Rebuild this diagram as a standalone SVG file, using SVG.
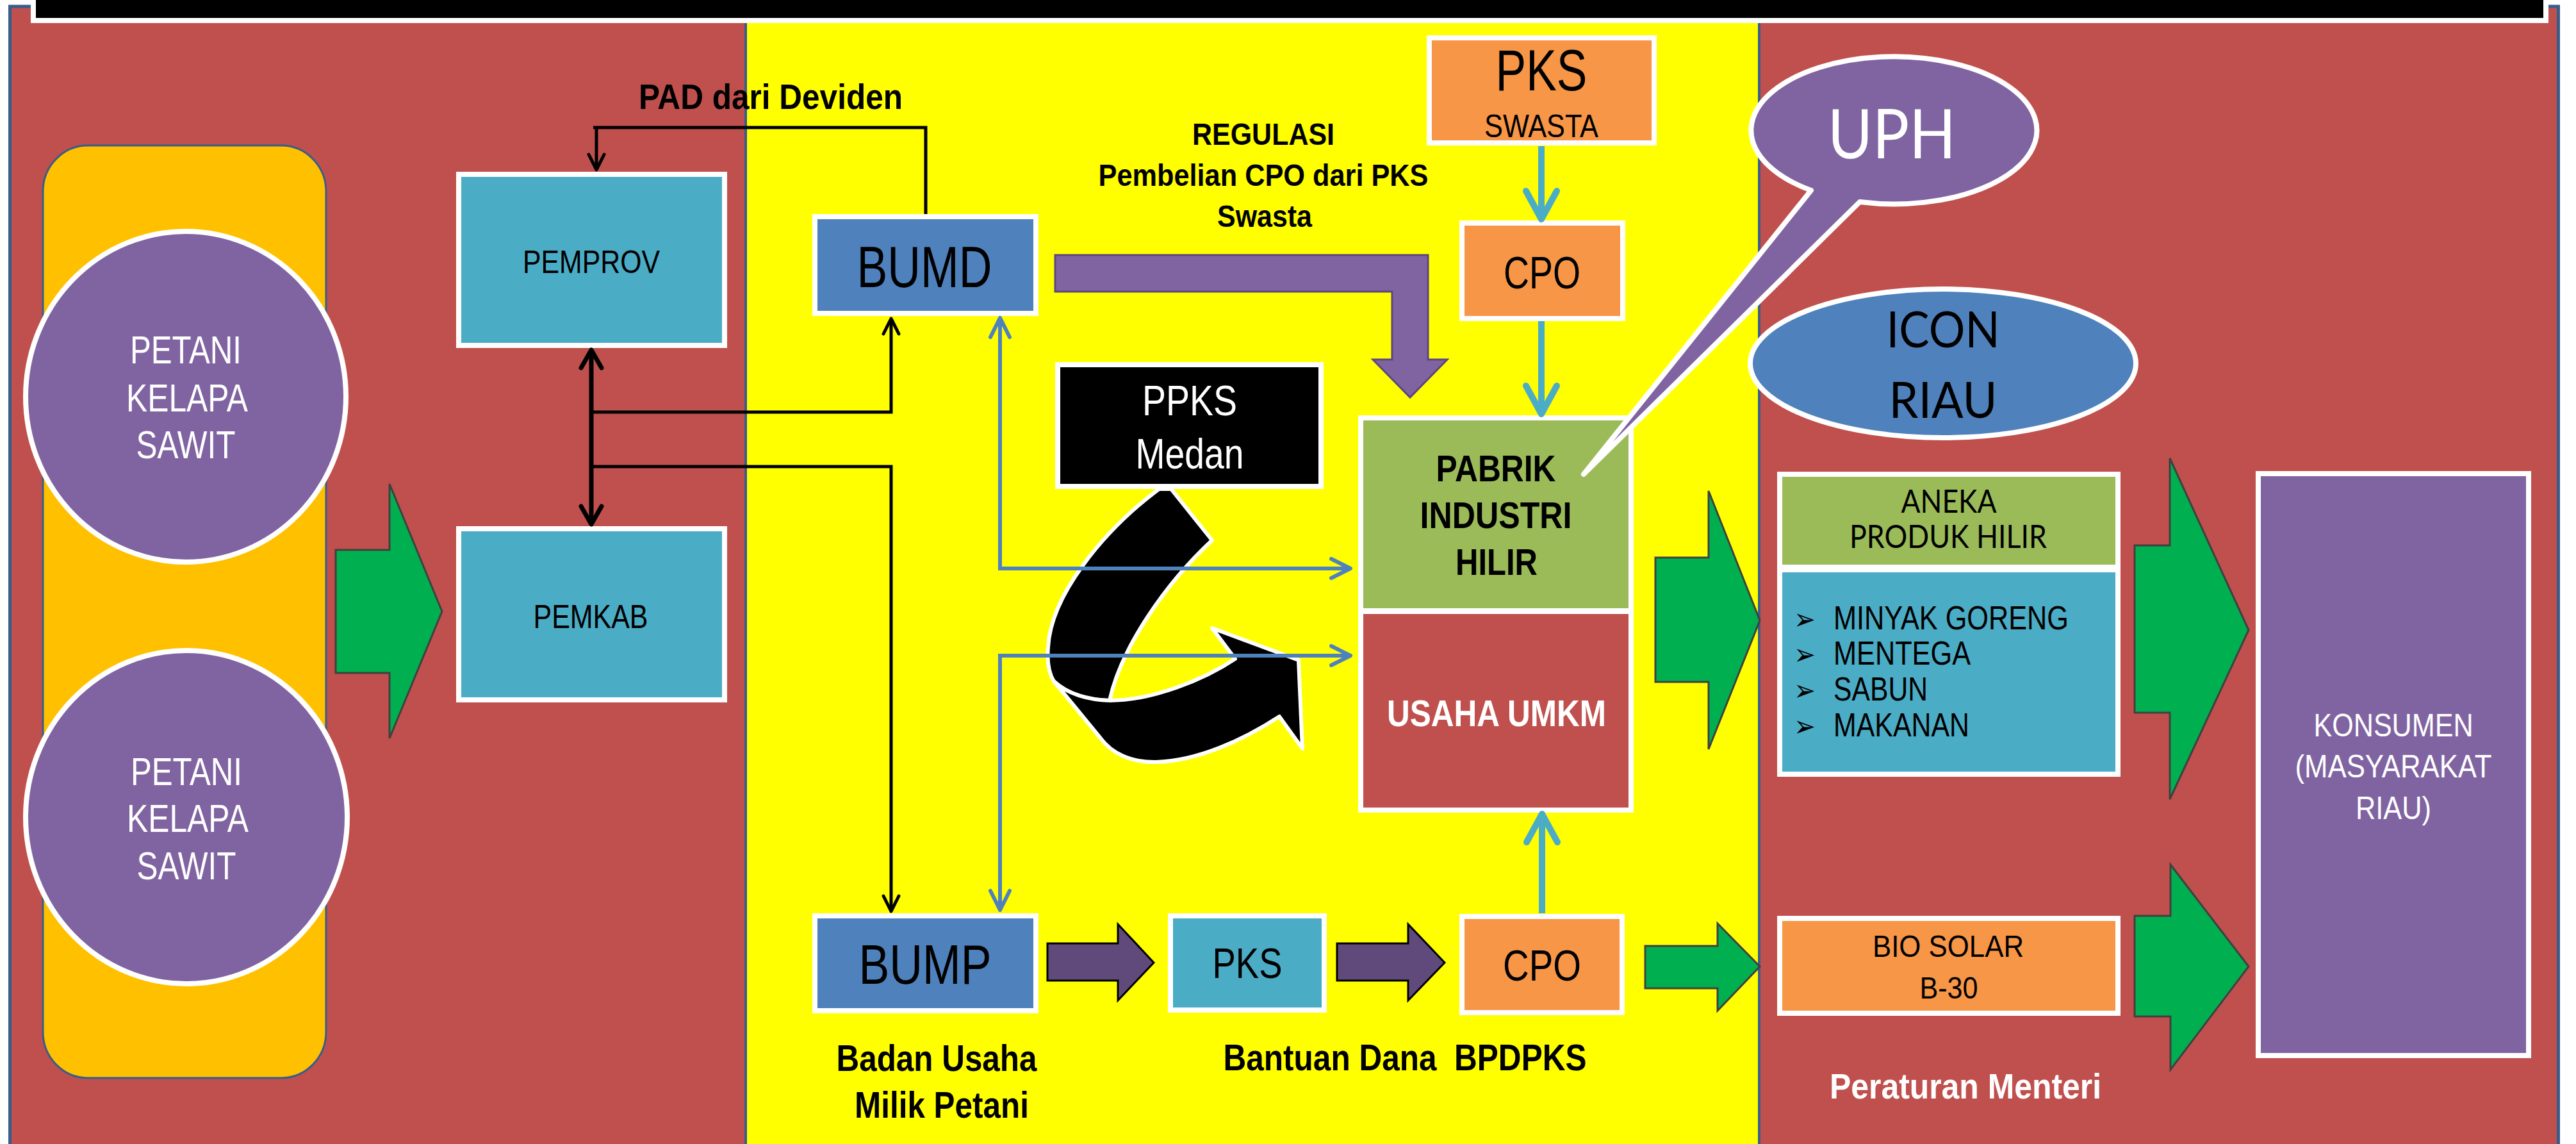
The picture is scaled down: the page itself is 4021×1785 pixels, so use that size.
<svg xmlns="http://www.w3.org/2000/svg" width="4021" height="1785" viewBox="0 0 4021 1785">
<style>
.t{font-family:"Liberation Sans Narrow","Liberation Sans",Arial,sans-serif;text-anchor:middle}
.l{font-family:Lato,"Open Sans",sans-serif;text-anchor:middle}
.b{font-weight:bold}
.box{stroke:#fff;stroke-width:8}
.ell{stroke:#fff;stroke-width:8}
.ga{fill:#00B050;stroke:#404040;stroke-width:3;stroke-linejoin:miter}
.pa{fill:#604A7B;stroke:#000;stroke-width:3}
.k{fill:none;stroke:#000;stroke-width:5}
.k2{fill:none;stroke:#000;stroke-width:7}
.bl{fill:none;stroke:#4F81BD;stroke-width:6}
.cy{fill:none;stroke:#4BACC6;stroke-width:10}
</style>
<defs>
<marker id="mk" viewBox="-40 -30 50 60" refX="0" refY="0" markerWidth="50" markerHeight="60" markerUnits="userSpaceOnUse" orient="auto-start-reverse"><path d="M-24,-12 L0,0 L-24,12" fill="none" stroke="#000" stroke-width="5" stroke-linejoin="round" stroke-linecap="round"/></marker>
<marker id="mk2" viewBox="-40 -30 50 60" refX="0" refY="0" markerWidth="50" markerHeight="60" markerUnits="userSpaceOnUse" orient="auto-start-reverse"><path d="M-28,-16 L0,0 L-28,16" fill="none" stroke="#000" stroke-width="7" stroke-linejoin="round" stroke-linecap="round"/></marker>
<marker id="mb" viewBox="-40 -30 50 60" refX="0" refY="0" markerWidth="50" markerHeight="60" markerUnits="userSpaceOnUse" orient="auto-start-reverse"><path d="M-30,-15 L0,0 L-30,15" fill="none" stroke="#4F81BD" stroke-width="6" stroke-linejoin="round" stroke-linecap="round"/></marker>
<marker id="mc" viewBox="-60 -40 70 80" refX="0" refY="0" markerWidth="70" markerHeight="80" markerUnits="userSpaceOnUse" orient="auto-start-reverse"><path d="M-44,-24 L0,0 L-44,24" fill="none" stroke="#4BACC6" stroke-width="10" stroke-linejoin="round" stroke-linecap="round"/></marker>
</defs>

<rect width="4021" height="1785" fill="#fff"/>
<g id="panels">
<rect x="15.5" y="10" width="3978" height="1800" fill="#C0504D" stroke="#385D8A" stroke-width="5"/>
<rect x="1164" y="20" width="1582" height="1800" fill="#FFFF00" stroke="#385D8A" stroke-width="4"/>
<rect x="52" y="-20" width="3922" height="52" fill="#000" stroke="#fff" stroke-width="8"/>
</g>

<g id="petani-group">
<rect x="67" y="227" width="442" height="1455" rx="70" ry="72" fill="#FFC000" stroke="#385D8A" stroke-width="3"/>
</g>
<g id="petani1">
<ellipse cx="290" cy="619" rx="250" ry="258" fill="#8064A2" class="ell"/>
<text class="t" x="290" y="567" font-size="61" fill="#fff" textLength="174" lengthAdjust="spacingAndGlyphs">PETANI</text>
<text class="t" x="292" y="642" font-size="61" fill="#fff" textLength="190" lengthAdjust="spacingAndGlyphs">KELAPA</text>
<text class="t" x="290" y="715" font-size="61" fill="#fff" textLength="155" lengthAdjust="spacingAndGlyphs">SAWIT</text>
</g>
<g id="petani2">
<ellipse cx="291" cy="1275" rx="251" ry="260" fill="#8064A2" class="ell"/>
<text class="t" x="291" y="1225" font-size="61" fill="#fff" textLength="174" lengthAdjust="spacingAndGlyphs">PETANI</text>
<text class="t" x="293" y="1298" font-size="61" fill="#fff" textLength="190" lengthAdjust="spacingAndGlyphs">KELAPA</text>
<text class="t" x="291" y="1372" font-size="61" fill="#fff" textLength="155" lengthAdjust="spacingAndGlyphs">SAWIT</text>
</g>

<g id="pemprov">
<rect x="716" y="272" width="415" height="267" fill="#4BACC6" class="box"/>
<text class="t" x="923" y="426" font-size="50" textLength="214" lengthAdjust="spacingAndGlyphs">PEMPROV</text>
</g>
<g id="pemkab">
<rect x="716" y="825" width="415" height="267" fill="#4BACC6" class="box"/>
<text class="t" x="922" y="980" font-size="52" textLength="179" lengthAdjust="spacingAndGlyphs">PEMKAB</text>
</g>
<g id="bumd">
<rect x="1272" y="338" width="345" height="151" fill="#4F81BD" class="box"/>
<text class="t" x="1443" y="448" font-size="90" textLength="211" lengthAdjust="spacingAndGlyphs">BUMD</text>
</g>
<g id="bump">
<rect x="1272" y="1429" width="345" height="148" fill="#4F81BD" class="box"/>
<text class="t" x="1444" y="1535" font-size="88" textLength="207" lengthAdjust="spacingAndGlyphs">BUMP</text>
</g>
<g id="pks-swasta">
<rect x="2231" y="59" width="351" height="164" fill="#F79646" class="box"/>
<text class="t" x="2406" y="141" font-size="90" textLength="143" lengthAdjust="spacingAndGlyphs">PKS</text>
<text class="t" x="2406" y="214" font-size="50" textLength="178" lengthAdjust="spacingAndGlyphs">SWASTA</text>
</g>
<g id="cpo-top">
<rect x="2282" y="348" width="251" height="149" fill="#F79646" class="box"/>
<text class="t" x="2407" y="450" font-size="70" textLength="120" lengthAdjust="spacingAndGlyphs">CPO</text>
</g>
<g id="ppks">
<rect x="1651" y="569" width="411" height="190" fill="#000" class="box"/>
<text class="t" x="1857" y="648" font-size="66" fill="#fff" textLength="148" lengthAdjust="spacingAndGlyphs">PPKS</text>
<text class="t" x="1857" y="731" font-size="66" fill="#fff" textLength="169" lengthAdjust="spacingAndGlyphs">Medan</text>
</g>
<g id="pabrik">
<rect x="2124" y="652" width="422" height="301" fill="#9BBB59" class="box"/>
<text class="t b" x="2335" y="751" font-size="58" textLength="187" lengthAdjust="spacingAndGlyphs">PABRIK</text>
<text class="t b" x="2335" y="824" font-size="58" textLength="237" lengthAdjust="spacingAndGlyphs">INDUSTRI</text>
<text class="t b" x="2336" y="897" font-size="58" textLength="128" lengthAdjust="spacingAndGlyphs">HILIR</text>
</g>
<g id="umkm">
<rect x="2124" y="954" width="422" height="310" fill="#C0504D" class="box"/>
<text class="t b" x="2336" y="1133" font-size="58" fill="#fff" textLength="342" lengthAdjust="spacingAndGlyphs">USAHA UMKM</text>
</g>
<g id="pks-bawah">
<rect x="1827" y="1429" width="240" height="147" fill="#4BACC6" class="box"/>
<text class="t" x="1947" y="1526" font-size="66" textLength="109" lengthAdjust="spacingAndGlyphs">PKS</text>
</g>
<g id="cpo-bawah">
<rect x="2282" y="1430" width="250" height="150" fill="#F79646" class="box"/>
<text class="t" x="2407" y="1530" font-size="68" textLength="122" lengthAdjust="spacingAndGlyphs">CPO</text>
</g>
<g id="aneka">
<rect x="2778" y="740" width="528" height="145" fill="#9BBB59" class="box"/>
<text class="l" x="3042" y="800" font-size="50" textLength="149" lengthAdjust="spacingAndGlyphs">ANEKA</text>
<text class="l" x="3041" y="855" font-size="50" textLength="308" lengthAdjust="spacingAndGlyphs">PRODUK HILIR</text>
</g>
<g id="produk-list">
<rect x="2778" y="889" width="528" height="319" fill="#4BACC6" class="box"/>
<g font-family="DejaVu Sans,sans-serif" font-size="46">
<text x="2800" y="982" textLength="34" lengthAdjust="spacingAndGlyphs">➢</text>
<text x="2800" y="1037" textLength="34" lengthAdjust="spacingAndGlyphs">➢</text>
<text x="2800" y="1093" textLength="34" lengthAdjust="spacingAndGlyphs">➢</text>
<text x="2800" y="1149" textLength="34" lengthAdjust="spacingAndGlyphs">➢</text>
</g>
<g font-family="'Liberation Sans Narrow','Liberation Sans',Arial,sans-serif" font-size="52">
<text x="2862" y="982" textLength="367" lengthAdjust="spacingAndGlyphs">MINYAK GORENG</text>
<text x="2862" y="1037" textLength="214" lengthAdjust="spacingAndGlyphs">MENTEGA</text>
<text x="2862" y="1093" textLength="147" lengthAdjust="spacingAndGlyphs">SABUN</text>
<text x="2862" y="1149" textLength="212" lengthAdjust="spacingAndGlyphs">MAKANAN</text>
</g>
</g>
<g id="biosolar">
<rect x="2778" y="1433" width="528" height="148" fill="#F79646" class="box"/>
<text class="t" x="3041" y="1493" font-size="48" textLength="236" lengthAdjust="spacingAndGlyphs">BIO SOLAR</text>
<text class="t" x="3042" y="1558" font-size="48" textLength="91" lengthAdjust="spacingAndGlyphs">B-30</text>
</g>
<g id="konsumen">
<rect x="3525" y="739" width="422" height="908" fill="#8064A2" class="box"/>
<text class="t" x="3736" y="1149" font-size="50" fill="#fff" textLength="249" lengthAdjust="spacingAndGlyphs">KONSUMEN</text>
<text class="t" x="3736" y="1213" font-size="50" fill="#fff" textLength="307" lengthAdjust="spacingAndGlyphs">(MASYARAKAT</text>
<text class="t" x="3736" y="1278" font-size="50" fill="#fff" textLength="118" lengthAdjust="spacingAndGlyphs">RIAU)</text>
</g>
<g id="icon-riau">
<ellipse cx="3033" cy="567" rx="301" ry="116" fill="#4F81BD" class="ell"/>
<text class="l" x="3033" y="542" font-size="78" textLength="177" lengthAdjust="spacingAndGlyphs">ICON</text>
<text class="l" x="3033" y="652" font-size="78" textLength="169" lengthAdjust="spacingAndGlyphs">RIAU</text>
</g>

<g id="ppks-arrow">
<path d="M1809,763 C1720,830 1640,930 1636,1010 C1634,1035 1638,1052 1645,1063 C1670,1086 1705,1093 1732,1093 C1750,1010 1820,910 1892,843 L1828,763 Z" fill="#000" stroke="#fff" stroke-width="6" stroke-linejoin="round"/>
<path d="M1645,1063 L1718,1152 C1735,1175 1765,1190 1805,1189 C1870,1187 1940,1155 1997,1118 L2033,1168 L2027,1030 L1892,980 L1928,1028 C1880,1060 1800,1093 1732,1093 C1700,1092 1665,1083 1645,1063 Z" fill="#000" stroke="#fff" stroke-width="6" stroke-linejoin="round"/>
</g>

<g id="connectors">
<path class="k" d="M1445,334 V199 H926 M931,199 V265" marker-end="url(#mk)"/>
<path class="k2" d="M923,546 V818" marker-start="url(#mk2)" marker-end="url(#mk2)"/>
<path class="k" d="M923,643 H1391 V497" marker-end="url(#mk)"/>
<path class="k" d="M923,728 H1391 V1422" marker-end="url(#mk)"/>
<path class="bl" d="M1561,496 V887 H2108" marker-start="url(#mb)" marker-end="url(#mb)"/>
<path class="bl" d="M1561,1420 V1023 H2108" marker-start="url(#mb)" marker-end="url(#mb)"/>
<path class="cy" d="M2406,228 V342" marker-end="url(#mc)"/>
<path class="cy" d="M2406,501 V646" marker-end="url(#mc)"/>
<path class="cy" d="M2407,1425 V1270" marker-end="url(#mc)"/>
<path d="M1647,398 H2229 V561 H2259 L2201,620 L2143,561 H2173 V455 H1647 Z" fill="#8064A2" stroke="#5C4680" stroke-width="3"/>
<polygon class="pa" points="1635,1472 1745,1472 1745,1442 1801,1502 1745,1561 1745,1530 1635,1530"/>
<polygon class="pa" points="2087,1472 2198,1472 2198,1442 2255,1502 2198,1561 2198,1530 2087,1530"/>
<polygon class="ga" points="524,858 608,858 608,755 690,954 608,1152 608,1050 524,1050"/>
<polygon class="ga" points="2584,870 2667,870 2667,766 2747,968 2667,1169 2667,1064 2584,1064"/>
<polygon class="ga" points="2568,1476 2681,1476 2681,1441 2747,1508 2681,1577 2681,1542 2568,1542"/>
<polygon class="ga" points="3332,851 3387,851 3387,715 3510,983 3387,1247 3387,1112 3332,1112"/>
<polygon class="ga" points="3332,1429 3388,1429 3388,1349 3510,1508 3388,1669 3388,1586 3332,1586"/>
</g>

<g id="uph">
<path d="M2903,315 A223,115 0 1 0 2827,297 L2472,740 Z" fill="#8064A2" stroke="#fff" stroke-width="8" stroke-linejoin="round"/>
<text class="l" x="2953" y="247" font-size="106" fill="#fff" textLength="200" lengthAdjust="spacingAndGlyphs">UPH</text>
</g>

<g id="labels">
<text class="t b" x="1203" y="170" font-size="56" textLength="412" lengthAdjust="spacingAndGlyphs">PAD dari Deviden</text>
<text class="t b" x="1972" y="226" font-size="48" textLength="222" lengthAdjust="spacingAndGlyphs">REGULASI</text>
<text class="t b" x="1972" y="290" font-size="48" textLength="515" lengthAdjust="spacingAndGlyphs">Pembelian CPO dari PKS</text>
<text class="t b" x="1974" y="354" font-size="48" textLength="148" lengthAdjust="spacingAndGlyphs">Swasta</text>
<text class="t b" x="1462" y="1671" font-size="57" textLength="313" lengthAdjust="spacingAndGlyphs">Badan Usaha</text>
<text class="t b" x="1470" y="1744" font-size="57" textLength="272" lengthAdjust="spacingAndGlyphs">Milik Petani</text>
<text class="t b" x="2193" y="1670" font-size="57" textLength="567" lengthAdjust="spacingAndGlyphs" xml:space="preserve">Bantuan Dana  BPDPKS</text>
<text class="t b" x="3068" y="1714" font-size="56" fill="#fff" textLength="424" lengthAdjust="spacingAndGlyphs">Peraturan Menteri</text>
</g>
</svg>
